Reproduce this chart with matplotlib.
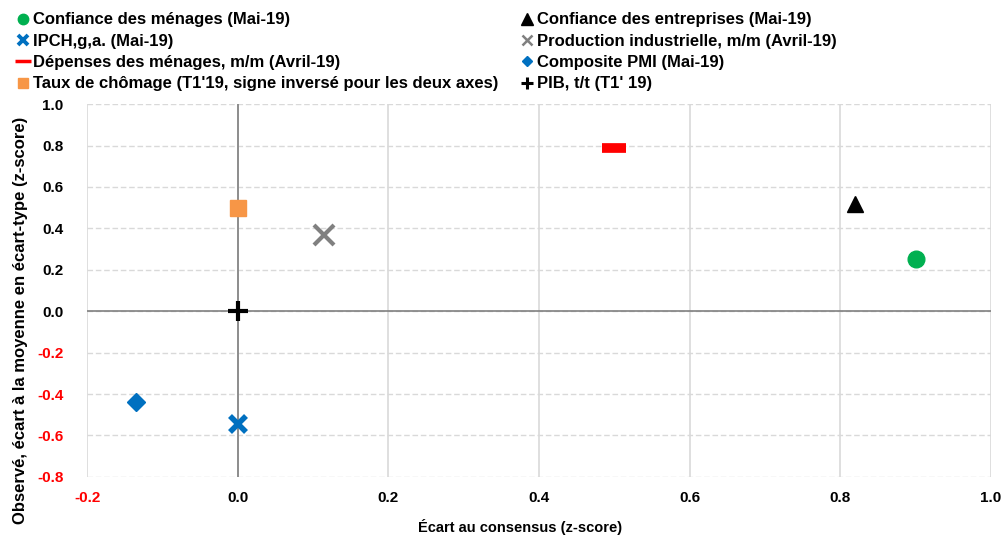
import matplotlib
matplotlib.use("Agg")
import matplotlib.pyplot as plt
from matplotlib.lines import Line2D

# data
labels = [
    "Confiance des ménages (Mai-19)",
    "IPCH,g,a. (Mai-19)",
    "Dépenses des ménages, m/m (Avril-19)",
    "Taux de chômage (T1'19, signe inversé pour les deux axes)",
    "Confiance des entreprises (Mai-19)",
    "Production industrielle, m/m (Avril-19)",
    "Composite PMI (Mai-19)",
    "PIB, t/t (T1' 19)",
]
ecart_consensus = [0.90, 0.0, 0.50, 0.0, 0.82, 0.115, -0.135, 0.0]
ecart_moyenne = [0.25, -0.545, 0.79, 0.50, 0.52, 0.37, -0.44, 0.0]

xticks = [-0.2, 0.0, 0.2, 0.4, 0.6, 0.8, 1.0]
yticks = [-0.8, -0.6, -0.4, -0.2, 0.0, 0.2, 0.4, 0.6, 0.8, 1.0]

# styles
colors = ["#00B050", "#0070C0", "#FF0000", "#F79646", "black", "#808080", "#0070C0", "black"]
markers = ["o", "x", "_", "s", "^", "x", "D", "+"]
sizes = [12, 12, 17, 12, 12, 14, 9, 15]
edgew = [1, 4, 7, 1, 1, 3, 1, 3]
leg_sizes = [7.5, 7, 12, 7, 8, 7.5, 5.5, 8.5]
leg_edgew = [1, 2.8, 2.5, 1, 1, 1.8, 1, 2.2]

plt.rcParams["font.family"] = ["Liberation Sans", "DejaVu Sans"]
plt.rcParams["font.weight"] = "bold"
plt.rcParams["font.size"] = 11

fig = plt.figure(figsize=(10.01, 5.37), dpi=100)
ax = fig.add_axes([0.087, 0.112, 0.903, 0.694])

ax.set_xlim(-0.2, 1.0)
ax.set_ylim(-0.8, 1.0)
ax.set_xticks(xticks)
ax.set_yticks(yticks)
ax.set_xticklabels([f"{v:.1f}" for v in xticks])
ax.set_yticklabels([f"{v:.1f}" for v in yticks])
for t, v in zip(ax.get_xticklabels(), xticks):
    t.set_color("red" if v < 0 else "black")
for t, v in zip(ax.get_yticklabels(), yticks):
    t.set_color("red" if v < 0 else "black")
ax.tick_params(axis="x", length=0, pad=10)
ax.tick_params(axis="y", length=0, pad=17)

for s in ax.spines.values():
    s.set_visible(False)
ax.xaxis.grid(True, color="#d9d9d9", lw=1.2)
ax.yaxis.grid(True, color="#d9d9d9", lw=1, ls=(0, (4, 2)))
ax.set_axisbelow(True)
ax.axvline(0, color="#808080", lw=1.2, zorder=1)
ax.axhline(0, color="#808080", lw=1.2, zorder=1)

for i in range(len(labels)):
    ax.plot(ecart_consensus[i], ecart_moyenne[i], linestyle="none",
            marker=markers[i], color=colors[i], markersize=sizes[i],
            markeredgewidth=edgew[i], zorder=3)

ax.set_xlabel("Écart au consensus (z-score)", fontsize=10.5, fontweight="bold")
ax.set_ylabel("Observé, écart à la moyenne en écart-type (z-score)",
              fontsize=12, fontweight="bold")
ax.xaxis.set_label_coords(0.479, -0.113)
ax.yaxis.set_label_coords(-0.065, 0.42)

handles = [Line2D([], [], linestyle="none", marker=markers[i], color=colors[i],
                  markersize=leg_sizes[i], markeredgewidth=leg_edgew[i])
           for i in range(len(labels))]

leg_kw = dict(loc="upper left", frameon=False, handlelength=0.8,
              handletextpad=0.2, labelspacing=0.38, borderpad=0,
              borderaxespad=0, fontsize=12)
fig.legend(handles=handles[:4], labels=labels[:4],
           bbox_to_anchor=(0.0163, 0.977), **leg_kw)
fig.legend(handles=handles[4:], labels=labels[4:],
           bbox_to_anchor=(0.52, 0.977), **leg_kw)

fig.savefig("out.png", dpi=100)
